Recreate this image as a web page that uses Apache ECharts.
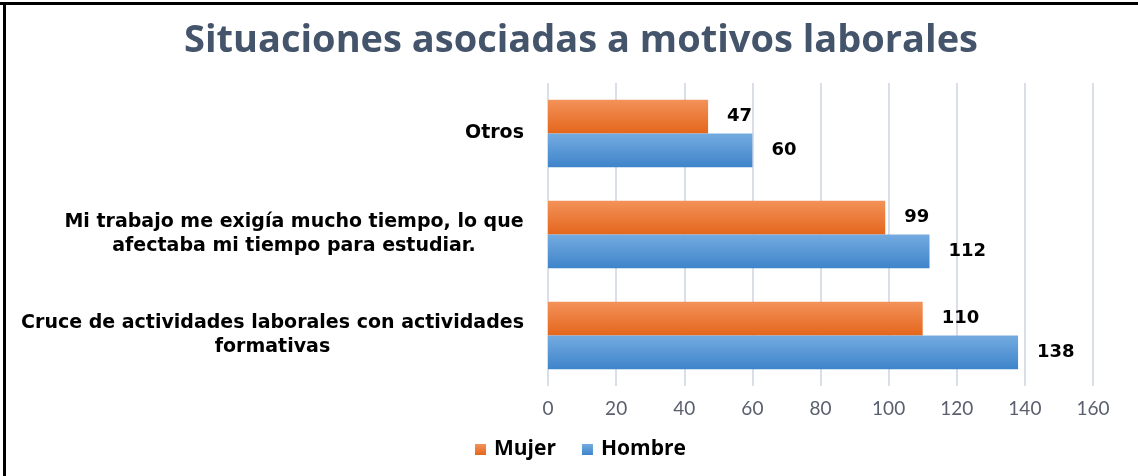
<!DOCTYPE html>
<html>
<head>
  <meta charset="UTF-8">
  <title>Situaciones asociadas a motivos laborales</title>
  <style>
    html, body { margin: 0; padding: 0; width: 100%; height: 100%; background: #fff; }
  </style>
  <script src="https://cdn.jsdelivr.net/npm/echarts@6/dist/echarts.min.js"></script>
</head>
<body>
<div id="main" style="width: 1138px; height: 476px;"></div>
<script>
  // data
  var categories = [
    'Cruce de actividades laborales con actividades\nformativas',
    'Mi trabajo me exigía mucho tiempo, lo que\nafectaba mi tiempo para estudiar.',
    'Otros'
  ];
  var mujer = [110, 99, 47];
  var hombre = [138, 112, 60];
  var xTicks = [0, 160, 20];

  var catFont = 'bold 19px "DejaVu Sans"';

  // width of the longest line of each label, so the lines get centred in a right-aligned block
  var ctx = document.createElement('canvas').getContext('2d');
  ctx.font = catFont;
  var rich = {};
  categories.forEach(function (c, i) {
    var w = 0;
    c.split('\n').forEach(function (l) { w = Math.max(w, ctx.measureText(l).width); });
    rich['c' + i] = {
      width: Math.ceil(w) + 2,
      align: 'center',
      fontFamily: 'DejaVu Sans',
      fontWeight: 'bold',
      fontSize: 19,
      lineHeight: 24,
      color: '#000'
    };
  });

  function grad(top, bottom) {
    return new echarts.graphic.LinearGradient(0, 0, 0, 1, [
      { offset: 0, color: top },
      { offset: 1, color: bottom }
    ]);
  }

  var chart = echarts.init(document.getElementById('main'));
  var labelStyle = {
    show: true,
    position: 'right',
    distance: 19,
    fontFamily: 'DejaVu Sans',
    fontWeight: 'bold',
    fontSize: 18,
    color: '#000'
  };

  chart.setOption({
    animation: false,
    title: {
      text: 'Situaciones asociadas a motivos laborales',
      left: 576,
      textAlign: 'center',
      top: 17,
      textStyle: { fontFamily: 'Open Sans', fontWeight: 'bold', fontSize: 38, color: '#44546A' }
    },
    legend: {
      data: ['Mujer', 'Hombre'],
      left: 470,
      top: 434,
      itemWidth: 11,
      itemHeight: 11,
      itemGap: 26,
      icon: 'rect',
      textStyle: { fontFamily: 'Open Sans', fontWeight: 'bold', fontSize: 21, color: '#000', padding: [0, 0, 0, 3] }
    },
    grid: { left: 548, right: 45, top: 83, bottom: 90, containLabel: false },
    xAxis: {
      type: 'value',
      min: xTicks[0],
      max: xTicks[1],
      interval: xTicks[2],
      axisLine: { show: false },
      axisTick: { show: false },
      splitLine: { lineStyle: { color: '#D9DEE8', width: 2 } },
      axisLabel: { margin: 13, fontFamily: 'Lato', fontSize: 19, color: '#595F6E' }
    },
    yAxis: {
      type: 'category',
      data: categories,
      axisLine: { show: false },
      axisTick: { show: false },
      axisLabel: {
        margin: 23,
        formatter: function (v, i) {
          return v.split('\n').map(function (l) { return '{c' + i + '|' + l + '}'; }).join('\n');
        },
        rich: rich
      }
    },
    series: [
      {
        name: 'Mujer',
        type: 'bar',
        data: mujer,
        barGap: '0%',
        barCategoryGap: '33%',
        itemStyle: { color: grad('#F3925A', '#E4661C') },
        label: labelStyle
      },
      {
        name: 'Hombre',
        type: 'bar',
        data: hombre,
        barGap: '0%',
        barCategoryGap: '33%',
        itemStyle: { color: grad('#74ABE0', '#3E84CA') },
        label: labelStyle
      }
    ],
    graphic: [
      { type: 'line', shape: { x1: 0, y1: 3.5, x2: 1138, y2: 3.5 }, style: { stroke: '#000', lineWidth: 3 } },
      { type: 'line', shape: { x1: 4.5, y1: 2, x2: 4.5, y2: 476 }, style: { stroke: '#000', lineWidth: 3 } }
    ]
  });
</script>
</body>
</html>
